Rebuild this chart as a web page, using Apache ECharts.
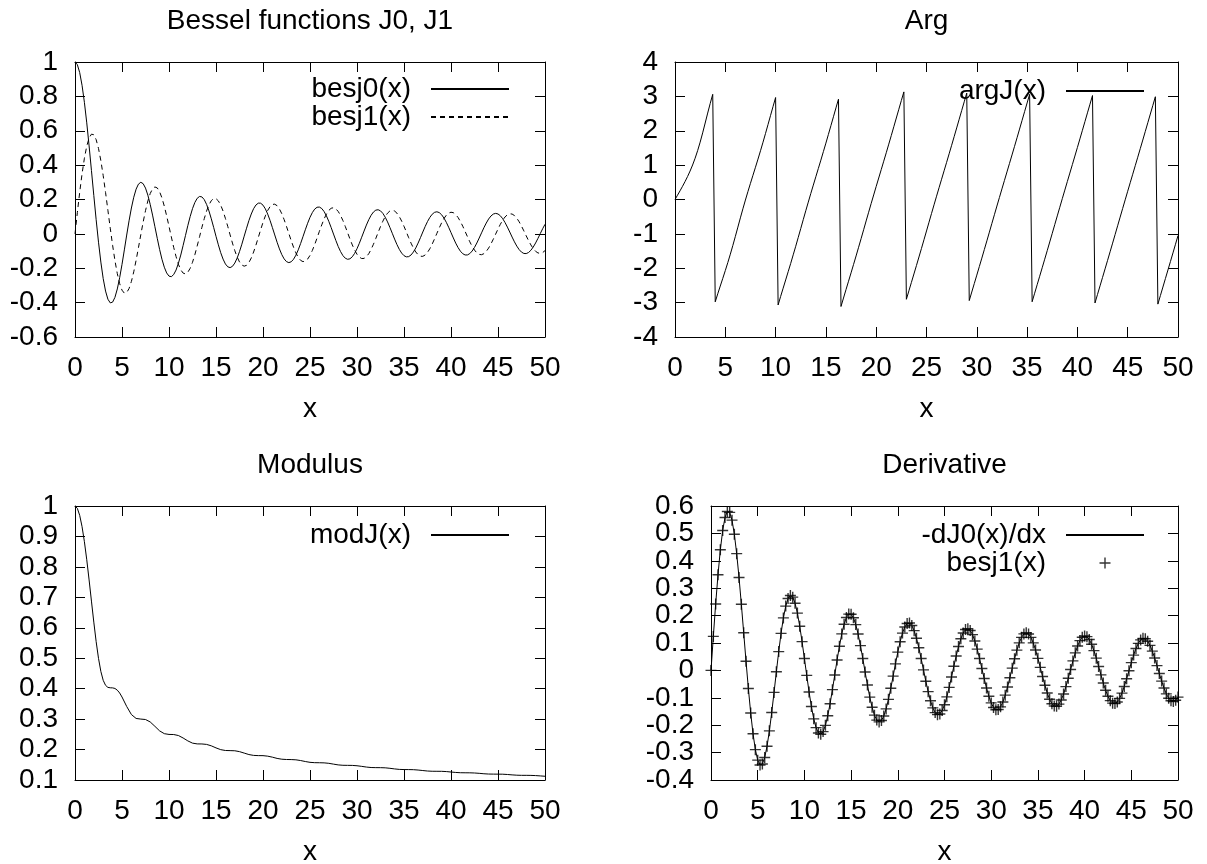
<!DOCTYPE html>
<html>
<head>
<meta charset="utf-8">
<script src="https://cdn.jsdelivr.net/npm/echarts@6/dist/echarts.min.js"></script>
<style>
html, body { margin: 0; padding: 0; background: #fff; }
#chart { width: 1207px; height: 864px; }
</style>
</head>
<body>
<div id="chart"></div>
<script>
// sample points, 0..50 every 0.25
var xs = [
  0, 0.25, 0.5, 0.75, 1, 1.25, 1.5, 1.75, 2, 2.25, 2.5, 2.75, 3, 3.25, 3.5, 3.75, 4, 4.25, 4.5, 4.75,
  5, 5.25, 5.5, 5.75, 6, 6.25, 6.5, 6.75, 7, 7.25, 7.5, 7.75, 8, 8.25, 8.5, 8.75, 9, 9.25, 9.5, 9.75,
  10, 10.25, 10.5, 10.75, 11, 11.25, 11.5, 11.75, 12, 12.25, 12.5, 12.75, 13, 13.25, 13.5, 13.75, 14, 14.25, 14.5, 14.75,
  15, 15.25, 15.5, 15.75, 16, 16.25, 16.5, 16.75, 17, 17.25, 17.5, 17.75, 18, 18.25, 18.5, 18.75, 19, 19.25, 19.5, 19.75,
  20, 20.25, 20.5, 20.75, 21, 21.25, 21.5, 21.75, 22, 22.25, 22.5, 22.75, 23, 23.25, 23.5, 23.75, 24, 24.25, 24.5, 24.75,
  25, 25.25, 25.5, 25.75, 26, 26.25, 26.5, 26.75, 27, 27.25, 27.5, 27.75, 28, 28.25, 28.5, 28.75, 29, 29.25, 29.5, 29.75,
  30, 30.25, 30.5, 30.75, 31, 31.25, 31.5, 31.75, 32, 32.25, 32.5, 32.75, 33, 33.25, 33.5, 33.75, 34, 34.25, 34.5, 34.75,
  35, 35.25, 35.5, 35.75, 36, 36.25, 36.5, 36.75, 37, 37.25, 37.5, 37.75, 38, 38.25, 38.5, 38.75, 39, 39.25, 39.5, 39.75,
  40, 40.25, 40.5, 40.75, 41, 41.25, 41.5, 41.75, 42, 42.25, 42.5, 42.75, 43, 43.25, 43.5, 43.75, 44, 44.25, 44.5, 44.75,
  45, 45.25, 45.5, 45.75, 46, 46.25, 46.5, 46.75, 47, 47.25, 47.5, 47.75, 48, 48.25, 48.5, 48.75, 49, 49.25, 49.5, 49.75,
  50
];

var j0 = [
  1, 0.9844, 0.9385, 0.8642, 0.7652, 0.6459, 0.5118, 0.3690, 0.2239, 0.0827, -0.0484, -0.1641, -0.2601, -0.3328, -0.3801, -0.4015, -0.3971, -0.3693, -0.3205, -0.2552,
  -0.1776, -0.0931, -0.0068, 0.0760, 0.1506, 0.2131, 0.2601, 0.2895, 0.3001, 0.2921, 0.2663, 0.2253, 0.1717, 0.1093, 0.0419, -0.0259, -0.0903, -0.1474, -0.1939, -0.2273,
  -0.2459, -0.2490, -0.2366, -0.2104, -0.1712, -0.1233, -0.0677, -0.0103, 0.0477, 0.1004, 0.1469, 0.1826, 0.2070, 0.2178, 0.2151, 0.1993, 0.1711, 0.1335, 0.0876, 0.0379,
  -0.0142, -0.0637, -0.1093, -0.1467, -0.1750, -0.1916, -0.1964, -0.1890, -0.1699, -0.1409, -0.1031, -0.0601, -0.0133, 0.0330, 0.0772, 0.1155, 0.1467, 0.1680, 0.1789, 0.1785,
  0.1671, 0.1456, 0.1151, 0.0783, 0.0366, -0.0063, -0.0489, -0.0875, -0.1207, -0.1457, -0.1616, -0.1672, -0.1624, -0.1477, -0.1239, -0.0929, -0.0562, -0.0168, 0.0237, 0.0619,
  0.0963, 0.1240, 0.1441, 0.1549, 0.1560, 0.1475, 0.1299, 0.1045, 0.0727, 0.0370, -0.0010, -0.0383, -0.0732, -0.1029, -0.1263, -0.1415, -0.1479, -0.1450, -0.1332, -0.1133,
  -0.0864, -0.0546, -0.0194, 0.0164, 0.0512, 0.0823, 0.1082, 0.1271, 0.1381, 0.1404, 0.1339, 0.1193, 0.0973, 0.0696, 0.0375, 0.0037, -0.0304, -0.0621, -0.0900, -0.1119,
  -0.1269, -0.1337, -0.1323, -0.1228, -0.1056, -0.0821, -0.0535, -0.0220, 0.0109, 0.0426, 0.0717, 0.0960, 0.1143, 0.1253, 0.1286, 0.1238, 0.1114, 0.0922, 0.0673, 0.0385,
  0.0074, -0.0238, -0.0536, -0.0797, -0.1008, -0.1154, -0.1228, -0.1226, -0.1147, -0.0998, -0.0788, -0.0531, -0.0241, 0.0060, 0.0358, 0.0630, 0.0863, 0.1040, 0.1153, 0.1192,
  0.1158, 0.1053, 0.0882, 0.0658, 0.0394, 0.0108, -0.0185, -0.0463, -0.0712, -0.0915, -0.1061, -0.1139, -0.1147, -0.1084, -0.0953, -0.0765, -0.0529, -0.0263, 0.0020, 0.0298,
  0.0558
];

var j1 = [
  0, 0.1240, 0.2423, 0.3492, 0.4401, 0.5106, 0.5579, 0.5802, 0.5767, 0.5484, 0.4971, 0.4261, 0.3391, 0.2412, 0.1374, 0.0332, -0.0660, -0.1556, -0.2311, -0.2893,
  -0.3276, -0.3451, -0.3414, -0.3180, -0.2767, -0.2207, -0.1538, -0.0803, -0.0047, 0.0686, 0.1352, 0.1916, 0.2346, 0.2622, 0.2731, 0.2673, 0.2453, 0.2092, 0.1613, 0.1049,
  0.0435, -0.0183, -0.0789, -0.1319, -0.1768, -0.2090, -0.2282, -0.2330, -0.2234, -0.2006, -0.1653, -0.1215, -0.0702, -0.0166, 0.0380, 0.0884, 0.1333, 0.1685, 0.1933, 0.2055,
  0.2050, 0.1920, 0.1671, 0.1328, 0.0903, 0.0436, -0.0058, -0.0534, -0.0976, -0.1347, -0.1634, -0.1813, -0.1879, -0.1829, -0.1666, -0.1405, -0.1056, -0.0652, -0.0208, 0.0237,
  0.0668, 0.1047, 0.1362, 0.1586, 0.1711, 0.1728, 0.1638, 0.1450, 0.1172, 0.0828, 0.0432, 0.0019, -0.0395, -0.0776, -0.1109, -0.1367, -0.1540, -0.1615, -0.1589, -0.1466,
  -0.1253, -0.0966, -0.0620, -0.0243, 0.0150, 0.0526, 0.0870, 0.1154, 0.1366, 0.1490, 0.1521, 0.1458, 0.1305, 0.1074, 0.0777, 0.0437, 0.0069, -0.0296, -0.0643, -0.0944,
  -0.1187, -0.1353, -0.1435, -0.1427, -0.1330, -0.1153, -0.0904, -0.0604, -0.0266, 0.0083, 0.0427, 0.0739, 0.1006, 0.1206, 0.1332, 0.1374, 0.1330, 0.1204, 0.1004, 0.0745,
  0.0440, 0.0112, -0.0223, -0.0540, -0.0823, -0.1052, -0.1215, -0.1301, -0.1306, -0.1230, -0.1078, -0.0862, -0.0592, -0.0289, 0.0032, 0.0347, 0.0641, 0.0891, 0.1085, 0.1210,
  0.1260, 0.1232, 0.1127, 0.0954, 0.0721, 0.0447, 0.0145, -0.0163, -0.0460, -0.0725, -0.0945, -0.1104, -0.1195, -0.1211, -0.1151, -0.1021, -0.0828, -0.0586, -0.0307, -0.0012,
  0.0283, 0.0558, 0.0798, 0.0986, 0.1113, 0.1169, 0.1153, 0.1066, 0.0913, 0.0704, 0.0452, 0.0175, -0.0113, -0.0391, -0.0645, -0.0857, -0.1015, -0.1109, -0.1134, -0.1088,
  -0.0975
];

var argJ = [
  0, 0.1253, 0.2527, 0.3842, 0.5219, 0.6687, 0.8285, 1.0040, 1.2006, 1.4210, 1.6679, 1.9383, 2.2251, 2.5146, 2.7947, 3.0591, -2.9769, -2.7433, -2.5170, -2.2938,
  -2.0676, -1.8343, -1.5907, -1.3362, -1.0723, -0.8029, -0.5339, -0.2706, -0.0157, 0.2307, 0.4696, 0.7047, 0.9390, 1.1758, 1.4186, 1.6674, 1.9235, 2.1846, 2.4477, 2.7094,
  2.9665, -3.0682, -2.8200, -2.5803, -2.3406, -2.0999, -1.8593, -1.6098, -1.3603, -1.1024, -0.8444, -0.5859, -0.3275, -0.0761, 0.1752, 0.4186, 0.6620, 0.9037, 1.1454, 1.3927,
  1.6401, 1.8949, 2.1497, 2.4072, 2.6646, 2.9178, -3.1123, -2.8661, -2.6199, -2.3769, -2.1340, -1.8879, -1.6418, -1.3894, -1.1369, -0.8807, -0.6245, -0.3703, -0.1162, 0.1322,
  0.3806, 0.6249, 0.8692, 1.1146, 1.3600, 1.6105, 1.8611, 2.1160, 2.3709, 2.6255, 2.8800, 3.1301, -2.9030, -2.6573, -2.4116, -2.1663, -1.9210, -1.6719, -1.4228, -1.1693,
  -0.9158, -0.6612, -0.4067, -0.1553, 0.0961, 0.3432, 0.5903, 0.8358, 1.0813, 1.3293, 1.5773, 1.8294, 2.0816, 2.3358, 2.5900, 2.8424, 3.0947, -2.9400, -2.6917, -2.4457,
  -2.1997, -1.9524, -1.7051, -1.4542, -1.2032, -0.9496, -0.6960, -0.4431, -0.1902, 0.0594, 0.3089, 0.5556, 0.8023, 1.0492, 1.2960, 1.5459, 1.7958, 2.0486, 2.3015, 2.5547,
  2.8078, 3.0584, -2.9743, -2.7268, -2.4793, -2.2325, -1.9857, -1.7368, -1.4878, -1.2358, -0.9838, -0.7306, -0.4775, -0.2261, 0.0252, 0.2736, 0.5220, 0.7690, 1.0159, 1.2641,
  1.5124, 1.7635, 2.0147, 2.2676, 2.5205, 2.7724, 3.0243, -3.0096, -2.7604, -2.5131, -2.2658, -2.0180, -1.7702, -1.5199, -1.2695, -1.0171, -0.7647, -0.5124, -0.2601, -0.0100,
  0.2401, 0.4879, 0.7356, 0.9832, 1.2308, 1.4803, 1.7299, 1.9818, 2.2337, 2.4861, 2.7385, 2.9893, -3.0432, -2.7948, -2.5464, -2.2988, -2.0513, -1.8024, -1.5534, -1.3022,
  -1.0509
];

// modulus: fine steps up to 5, then every 0.5
var xsMod = [
  0, 0.25, 0.5, 0.75, 1, 1.25, 1.5, 1.75, 2, 2.25, 2.5, 2.75, 3, 3.25, 3.5, 3.75, 4, 4.25, 4.5, 4.75,
  5, 5.5, 6, 6.5, 7, 7.5, 8, 8.5, 9, 9.5, 10, 10.5, 11, 11.5, 12, 12.5, 13, 13.5, 14, 14.5,
  15, 15.5, 16, 16.5, 17, 17.5, 18, 18.5, 19, 19.5, 20, 20.5, 21, 21.5, 22, 22.5, 23, 23.5, 24, 24.5,
  25, 25.5, 26, 26.5, 27, 27.5, 28, 28.5, 29, 29.5, 30, 30.5, 31, 31.5, 32, 32.5, 33, 33.5, 34, 34.5,
  35, 35.5, 36, 36.5, 37, 37.5, 38, 38.5, 39, 39.5, 40, 40.5, 41, 41.5, 42, 42.5, 43, 43.5, 44, 44.5,
  45, 45.5, 46, 46.5, 47, 47.5, 48, 48.5, 49, 49.5, 50
];
var modJ = [
  1, 0.9922, 0.9693, 0.9321, 0.8827, 0.8234, 0.7571, 0.6876, 0.6186, 0.5546, 0.4995, 0.4566, 0.4274, 0.4110, 0.4042, 0.4029, 0.4026, 0.4007, 0.3951, 0.3858,
  0.3726, 0.3415, 0.3150, 0.3022, 0.3001, 0.2987, 0.2907, 0.2763, 0.2614, 0.2522, 0.2497, 0.2494, 0.2461, 0.2380, 0.2285, 0.2211, 0.2186, 0.2184, 0.2169, 0.2122,
  0.2055, 0.1997, 0.1969, 0.1965, 0.1960, 0.1932, 0.1884, 0.1836, 0.1808, 0.1801, 0.1800, 0.1783, 0.1750, 0.1709, 0.1683, 0.1673, 0.1671, 0.1663, 0.1639, 0.1607,
  0.1580, 0.1569, 0.1567, 0.1563, 0.1548, 0.1521, 0.1496, 0.1483, 0.1481, 0.1479, 0.1468, 0.1448, 0.1425, 0.1410, 0.1406, 0.1405, 0.1400, 0.1384, 0.1364, 0.1348,
  0.1343, 0.1342, 0.1339, 0.1327, 0.1311, 0.1295, 0.1287, 0.1286, 0.1285, 0.1277, 0.1262, 0.1248, 0.1239, 0.1237, 0.1236, 0.1230, 0.1219, 0.1205, 0.1196, 0.1193,
  0.1192, 0.1190, 0.1181, 0.1168, 0.1158, 0.1153, 0.1153, 0.1151, 0.1145, 0.1134, 0.1123
];

var titles = ['Bessel functions J0, J1', 'Arg', 'Modulus', 'Derivative'];
// y range per panel: [min, max, step]
var yRanges = [[-0.6, 1, 0.2], [-4, 4, 1], [0.1, 1, 0.1], [-0.4, 0.6, 0.1]];

var font = 'Liberation Sans';
var fs = 28;
var W = 1207;

// plot boxes: left, top, width, height
var boxes = [[75, 62, 470, 275], [675, 62, 503, 275], [75, 506, 470, 274], [711, 506, 467, 274]];

function pairs(xv, yv) {
  return xv.map(function (x, i) { return [x, yv[i]]; });
}

var txt = { color: '#000', fontSize: fs, fontFamily: font };
var grids = [], xAxes = [], yAxes = [], titleOpts = [];

function yAxisFor(i, mirror) {
  return {
    gridIndex: i, type: 'value', min: yRanges[i][0], max: yRanges[i][1], interval: yRanges[i][2],
    position: mirror ? 'right' : 'left',
    axisLine: { onZero: false, lineStyle: { color: '#000', width: 1 } },
    axisTick: { inside: true, length: 10, lineStyle: { color: '#000', width: 1 } },
    axisLabel: { show: !mirror, color: '#000', fontSize: fs, fontFamily: font, margin: 17,
      showMinLabel: true, showMaxLabel: true },
    splitLine: { show: false }
  };
}

boxes.forEach(function (b, i) {
  grids.push({ left: b[0], top: b[1], width: b[2], height: b[3], outerBoundsMode: 'none', containLabel: false });
  [false, true].forEach(function (mirror) {
    xAxes.push({
      gridIndex: i, type: 'value', min: 0, max: 50, interval: 5,
      position: mirror ? 'top' : 'bottom',
      name: mirror ? '' : 'x', nameLocation: 'middle', nameGap: 58, nameTextStyle: txt,
      axisLine: { onZero: false, lineStyle: { color: '#000', width: 1 } },
      axisTick: { inside: true, length: 10, lineStyle: { color: '#000', width: 1 } },
      axisLabel: { show: !mirror, color: '#000', fontSize: fs, fontFamily: font, margin: 17,
        showMinLabel: true, showMaxLabel: true },
      splitLine: { show: false }
    });
    yAxes.push(yAxisFor(i, mirror));
  });
  titleOpts.push({
    text: titles[i], left: b[0] + b[2] / 2, top: b[1] - 55, textAlign: 'center', padding: 0,
    textStyle: { color: '#000', fontSize: fs, fontFamily: font, fontWeight: 'normal' }
  });
});

// derivative panel: tick labels sit closer than their text height, so ECharts
// would drop some; split them over two stacked axes (even / odd tenths)
function tenths(keepEven) {
  return function (v) {
    var k = Math.round(v * 10);
    return (Math.abs(k) % 2 === 0) === keepEven ? String(k / 10) : '';
  };
}
yAxes[6].axisLabel.formatter = tenths(true);
var oddAxis = yAxisFor(3, false);
oddAxis.axisLine = { show: false, onZero: false };
oddAxis.axisTick = { show: false };
oddAxis.axisLabel.formatter = tenths(false);
yAxes.push(oddAxis);

var plus = 'path://M0,5L10,5M5,0L5,10';
// line keys show only the line sample
var noMark = { color: 'rgba(0,0,0,0)', borderColor: 'rgba(0,0,0,0)', borderWidth: 0 };

function legendAt(items, right, top) {
  return {
    data: items, orient: 'vertical', align: 'right', right: right, top: top,
    itemWidth: 78, itemHeight: 11, itemGap: 0, padding: 0, selectedMode: false,
    formatter: function (n) { return n.trim(); },
    itemStyle: { color: '#000', borderColor: '#000', borderWidth: 1.4 },
    textStyle: { color: '#000', fontSize: fs, fontFamily: font, lineHeight: 25, padding: [0, 15, 0, 0] }
  };
}

var lineBase = { type: 'line', showSymbol: false, symbol: 'none', silent: true, animation: false };

var series = [
  Object.assign({ name: 'besj0(x)', xAxisIndex: 0, yAxisIndex: 0, data: pairs(xs, j0),
    lineStyle: { color: '#000', width: 1 }, itemStyle: { color: '#000' } }, lineBase),
  Object.assign({ name: 'besj1(x)', xAxisIndex: 0, yAxisIndex: 0, data: pairs(xs, j1),
    lineStyle: { color: '#000', width: 1, type: [5, 4] }, itemStyle: { color: '#000' } }, lineBase),
  Object.assign({ name: 'argJ(x)', xAxisIndex: 2, yAxisIndex: 2, data: pairs(xs, argJ),
    lineStyle: { color: '#000', width: 1 }, itemStyle: { color: '#000' } }, lineBase),
  Object.assign({ name: 'modJ(x)', xAxisIndex: 4, yAxisIndex: 4, data: pairs(xsMod, modJ),
    lineStyle: { color: '#000', width: 1 }, itemStyle: { color: '#000' } }, lineBase),
  Object.assign({ name: '-dJ0(x)/dx', xAxisIndex: 6, yAxisIndex: 6, data: pairs(xs, j1),
    lineStyle: { color: '#000', width: 1 }, itemStyle: { color: '#000' } }, lineBase),
  {
    type: 'scatter', name: 'besj1(x) ', xAxisIndex: 6, yAxisIndex: 6, data: pairs(xs, j1),
    symbol: plus, symbolSize: 11, symbolKeepAspect: true, silent: true, animation: false,
    itemStyle: { color: '#000', borderColor: '#000', borderWidth: 1.4 }
  }
];

var chart = echarts.init(document.getElementById('chart'), null, { renderer: 'canvas' });
chart.setOption({
  backgroundColor: '#fff',
  animation: false,
  title: titleOpts,
  grid: grids,
  xAxis: xAxes,
  yAxis: yAxes,
  legend: [
    legendAt([{ name: 'besj0(x)', itemStyle: noMark }, { name: 'besj1(x)', itemStyle: noMark }], W - 510, 75),
    legendAt([{ name: 'argJ(x)', itemStyle: noMark }], W - 1145, 77),
    legendAt([{ name: 'modJ(x)', itemStyle: noMark }], W - 510, 521),
    legendAt([{ name: '-dJ0(x)/dx', itemStyle: noMark }, 'besj1(x) '], W - 1145, 521)
  ],
  series: series
});
</script>
</body>
</html>
